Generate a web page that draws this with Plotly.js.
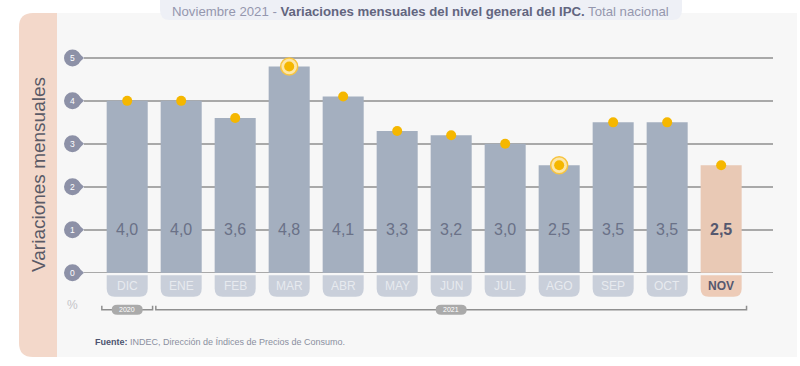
<!DOCTYPE html>
<html>
<head>
<meta charset="utf-8">
<script src="https://cdn.plot.ly/plotly-3.0.1.min.js"></script>
<style>html,body{margin:0;padding:0;background:#fff}#chart{width:800px;height:366px}</style>
</head>
<body>
<div id="chart"></div>
<script>
// ---- data ----
const categories = ['DIC','ENE','FEB','MAR','ABR','MAY','JUN','JUL','AGO','SEP','OCT','NOV'];
const values = [4.0, 4.0, 3.6, 4.8, 4.1, 3.3, 3.2, 3.0, 2.5, 3.5, 3.5, 2.5];
const highlighted = ['MAR','AGO'];
const currentMonth = 'NOV';
const years = ['2020','2021'];
const yearFirst = ['DIC','ENE'];
const yearLast = ['DIC','NOV'];
const yTicks = [0,1,2,3,4,5];
const labelLevel = 1;
const titleParts = ['Noviembre 2021 - ', 'Variaciones mensuales del nivel general del IPC.', ' Total nacional'];
const yTitle = 'Variaciones mensuales';
const sourceBold = 'Fuente:';
const sourceText = ' INDEC, Dirección de Índices de Precios de Consumo.';

// ---- geometry ----
const W = 800, H = 366, L = 84, R = 27, T = 45, B = 46;
const plotW = W - L - R, plotH = H - T - B;
const fx = px => (px - L) / plotW;
const fy = py => (H - B - py) / plotH;
const pp = (px, py) => `${px - L},${(H - B) - py}`;
const FONT = 'Liberation Sans, Arial, sans-serif';

const BAR = '#a4afbf', BAR_CUR = '#e9c9b5';
const TAB = '#c9cfda', TAB_CUR = '#edcbb7';
const DOT = '#f5b700';

const isCur = c => c === currentMonth;

const traces = [
  {
    type: 'bar', x: categories, y: values,
    marker: { color: categories.map(c => isCur(c) ? BAR_CUR : BAR), line: { width: 0 } },
    hoverinfo: 'skip'
  },
  {
    type: 'scatter', mode: 'markers',
    x: highlighted,
    y: highlighted.map(c => values[categories.indexOf(c)]),
    marker: { size: 17, color: '#fce6a8', line: { width: 1.5, color: '#f7c440' } },
    cliponaxis: false, hoverinfo: 'skip'
  },
  {
    type: 'scatter', mode: 'markers', x: categories, y: values,
    marker: { size: 10, color: DOT },
    cliponaxis: false, hoverinfo: 'skip'
  }
];

const shapes = [];
const paperPix = { xref: 'paper', yref: 'paper', xsizemode: 'pixel', ysizemode: 'pixel', xanchor: 0, yanchor: 0 };

// background panels
shapes.push(Object.assign({}, paperPix, {
  type: 'path', layer: 'below', line: { width: 0 }, fillcolor: '#f3d8ca',
  path: `M ${pp(33,13)} L ${pp(70,13)} L ${pp(70,357)} L ${pp(33,357)} Q ${pp(19,357)} ${pp(19,343)} L ${pp(19,27)} Q ${pp(19,13)} ${pp(33,13)} Z`
}));
shapes.push(Object.assign({}, paperPix, {
  type: 'path', layer: 'below', line: { width: 0 }, fillcolor: '#f7f7f7',
  path: `M ${pp(57,13)} L ${pp(797,13)} L ${pp(797,357)} L ${pp(57,357)} Z`
}));
// title pill
shapes.push(Object.assign({}, paperPix, {
  type: 'path', layer: 'below', line: { width: 0 }, fillcolor: '#eef0f6',
  path: `M ${pp(160,0)} L ${pp(682,0)} L ${pp(682,10)} Q ${pp(682,20)} ${pp(672,20)} L ${pp(170,20)} Q ${pp(160,20)} ${pp(160,10)} Z`
}));

// y tick badges
yTicks.forEach(t => {
  shapes.push({
    type: 'circle', xref: 'paper', yref: 'y', xsizemode: 'pixel', ysizemode: 'pixel',
    xanchor: 0, yanchor: t, x0: -20, x1: -3, y0: -8.5, y1: 8.5,
    fillcolor: '#8d91a7', line: { width: 0 }, layer: 'above'
  });
  shapes.push({
    type: 'path', xref: 'paper', yref: 'y', xsizemode: 'pixel', ysizemode: 'pixel',
    xanchor: 0, yanchor: t, path: 'M -6.5,6 L 0,0 L -6.5,-6 Z',
    fillcolor: '#8d91a7', line: { width: 0 }, layer: 'above'
  });
});

// category tabs
categories.forEach((c, i) => {
  shapes.push({
    type: 'path', xref: 'x', yref: 'y', xsizemode: 'pixel', ysizemode: 'pixel',
    xanchor: i, yanchor: 0,
    path: 'M -20.5,-2.5 L 20.5,-2.5 L 20.5,-16 Q 20.5,-24 12.5,-24 L -12.5,-24 Q -20.5,-24 -20.5,-16 Z',
    fillcolor: isCur(c) ? TAB_CUR : TAB, line: { width: 0 }, layer: 'above'
  });
});

// year brackets
const yearCenters = [];
years.forEach((yr, k) => {
  const a = categories.indexOf(yearFirst[k]) - 0.47;
  const b = categories.indexOf(yearLast[k]) + 0.47;
  yearCenters.push((a + b) / 2);
  shapes.push({
    type: 'path', xref: 'x', yref: 'y', ysizemode: 'pixel', yanchor: 0,
    path: `M ${a},-33 L ${a},-37 L ${b},-37 L ${b},-33`,
    line: { color: '#8f8f8f', width: 1.5 }, layer: 'above'
  });
  shapes.push({
    type: 'path', xref: 'x', yref: 'y', xsizemode: 'pixel', ysizemode: 'pixel',
    xanchor: (a + b) / 2, yanchor: 0,
    path: 'M -10,-32 L 10,-32 Q 15.5,-32 15.5,-37 Q 15.5,-42 10,-42 L -10,-42 Q -15.5,-42 -15.5,-37 Q -15.5,-32 -10,-32 Z',
    fillcolor: '#aaaaaa', line: { width: 0 }, layer: 'above'
  });
});

const annotations = [];
// title
annotations.push({
  xref: 'paper', yref: 'paper', x: fx(420), y: fy(11), xanchor: 'center', yanchor: 'middle', showarrow: false,
  text: `<span style="color:#9597ae">${titleParts[0]}</span><span style="color:#62657f"><b>${titleParts[1]}</b></span><span style="color:#9597ae">${titleParts[2]}</span>`,
  font: { family: FONT, size: 13.2 }
});
// y title
annotations.push({
  xref: 'paper', yref: 'paper', x: fx(38), y: fy(175), xanchor: 'center', yanchor: 'middle', showarrow: false,
  textangle: -90, text: yTitle, font: { family: FONT, size: 19, color: '#5a5a66' }
});
// y tick labels
yTicks.forEach(t => annotations.push({
  xref: 'paper', yref: 'y', x: 0, xshift: -11.5, y: t, xanchor: 'center', yanchor: 'middle', showarrow: false,
  text: String(t), font: { family: FONT, size: 8.5, color: '#ffffff' }
}));
// value labels
categories.forEach((c, i) => annotations.push({
  xref: 'x', yref: 'y', x: c, y: labelLevel, xanchor: 'center', yanchor: 'middle', showarrow: false,
  text: isCur(c) ? `<b>${values[i].toFixed(1).replace('.', ',')}</b>` : values[i].toFixed(1).replace('.', ','),
  font: { family: FONT, size: 16, color: isCur(c) ? '#55586f' : '#6a7187' }
}));
// category tab labels
categories.forEach(c => annotations.push({
  xref: 'x', yref: 'y', x: c, y: 0, yshift: -13.5, xanchor: 'center', yanchor: 'middle', showarrow: false,
  text: isCur(c) ? `<b>${c}</b>` : c,
  font: { family: FONT, size: 12, color: isCur(c) ? '#55586f' : '#e7eaef' }
}));
// year labels
years.forEach((yr, k) => annotations.push({
  xref: 'x', yref: 'y', x: yearCenters[k], y: 0, yshift: -37, xanchor: 'center', yanchor: 'middle', showarrow: false,
  text: yr, font: { family: FONT, size: 7, color: '#ffffff' }
}));
// percent sign
annotations.push({
  xref: 'paper', yref: 'paper', x: fx(72), y: fy(305), xanchor: 'center', yanchor: 'middle', showarrow: false,
  text: '%', font: { family: FONT, size: 12, color: '#c4c4c8' }
});
// source
annotations.push({
  xref: 'paper', yref: 'paper', x: fx(93), y: fy(342), xanchor: 'left', yanchor: 'middle', showarrow: false,
  text: `<span style="color:#4d5470"><b>${sourceBold}</b></span><span style="color:#8a8fa0">${sourceText}</span>`,
  font: { family: FONT, size: 9 }
});

const layout = {
  width: W, height: H,
  margin: { l: L, r: R, t: T, b: B, pad: 0 },
  paper_bgcolor: '#ffffff', plot_bgcolor: 'rgba(0,0,0,0)',
  font: { family: FONT },
  showlegend: false,
  bargap: 0.24,
  xaxis: {
    type: 'category', range: [-0.8, 11.96], showgrid: false, zeroline: false,
    showticklabels: false, ticks: '', showline: false, fixedrange: true
  },
  yaxis: {
    range: [-1.1, 5.3], tickvals: yTicks, showticklabels: false, ticks: '',
    showgrid: true, gridcolor: '#a9a9a9', gridwidth: 1.5, zeroline: false, showline: false, fixedrange: true
  },
  shapes: shapes,
  annotations: annotations
};

Plotly.newPlot('chart', traces, layout, { staticPlot: true, displayModeBar: false });
</script>
</body>
</html>
